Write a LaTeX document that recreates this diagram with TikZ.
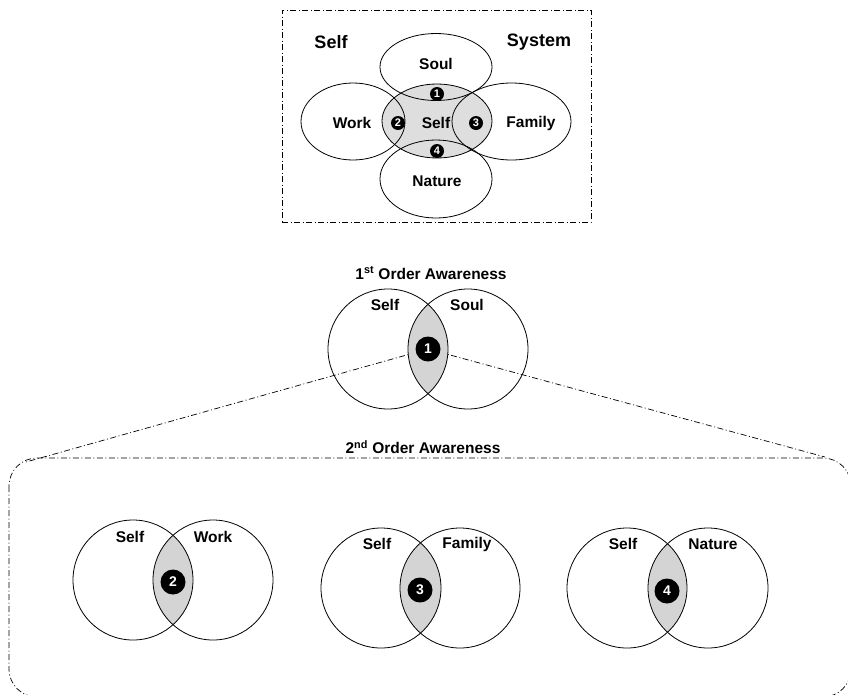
\documentclass[tikz,border=0pt]{standalone}
\usepackage{fontspec}
\setmainfont{Liberation Sans}
\usetikzlibrary{shapes.geometric}
\definecolor{lensgray}{RGB}{212,212,212}
\definecolor{selfgray}{RGB}{222,222,222}
\begin{document}
\begin{tikzpicture}[x=1pt,y=-1pt,
  line width=0.8pt,
  dd/.style={line width=0.7pt, dash pattern=on 6pt off 2.5pt on 1pt off 2.5pt},
  lbl/.style={font=\fontsize{15.5}{18}\selectfont\bfseries, inner sep=0pt},
  biglbl/.style={font=\fontsize{18}{21}\selectfont\bfseries, inner sep=0pt},
  bad/.style={circle, fill=black, text=white, inner sep=0pt, minimum size=25pt, font=\fontsize{14}{16}\selectfont\bfseries},
  sbad/.style={circle, fill=black, text=white, inner sep=0pt, minimum size=14pt, font=\fontsize{11}{12}\selectfont\bfseries},
  vc/.style={circle, draw, inner sep=0pt, minimum size=120pt},
  el/.style={ellipse, draw, inner sep=0pt},
]
\useasboundingbox (0,0) rectangle (848,694);
\fill[white] (0,0) rectangle (848,694);

% ---------- top box ----------
\node[draw, dd, rectangle, minimum width=309pt, minimum height=212pt, inner sep=0pt] (box) at (436.5,116) {};
\node[el, fill=selfgray, minimum width=110pt, minimum height=74pt] (eself) at (437,121) {};
\node[el, minimum width=112pt, minimum height=67pt] (esoul) at (436,67) {};
\node[el, minimum width=104pt, minimum height=77pt] (ework) at (353,121.5) {};
\node[el, minimum width=119pt, minimum height=77pt] (efam) at (511.5,121.5) {};
\node[el, minimum width=112pt, minimum height=78pt] (enat) at (436,179) {};
\node[biglbl] (tself) at (331,42) {Self};
\node[biglbl] (tsys) at (539,42) {System};
\node[lbl] (lsoul) at (436,64) {Soul};
\node[lbl] (lwork) at (352,123) {Work};
\node[lbl] (lself) at (436,123) {Self};
\node[lbl] (lfam) at (531,123) {Family};
\node[lbl] (lnat) at (437,181) {Nature};
\node[sbad] (s1) at (437,94) {1};
\node[sbad] (s2) at (398,123) {2};
\node[sbad] (s3) at (476,123) {3};
\node[sbad] (s4) at (437,151) {4};

% ---------- 1st order ----------
\node[lbl] (t1) at (431,273) {1\textsuperscript{st} Order Awareness};
\coordinate (m1c) at (428,349);
\coordinate (lend) at (26,462);
\coordinate (rend) at (825,457);
\draw[dd] (m1c) -- (lend);
\draw[dd] (m1c) -- (rend);
\coordinate (msc) at (388,349);
\coordinate (moc) at (468,349);
\begin{scope}
  \clip (msc) circle (60pt);
  \fill[lensgray] (moc) circle (60pt);
\end{scope}
\node[vc] (ms) at (msc) {};
\node[vc] (mo) at (moc) {};
\node[lbl] (lms) at (385,305) {Self};
\node[lbl] (lmo) at (467,305) {Soul};
\node[bad] (m1) at (m1c) {1};

% ---------- 2nd order ----------
\begin{scope}
  \clip (0,0) rectangle (848,694);
  \draw[dd, rounded corners=28pt] (9,458) rectangle (851,697);
\end{scope}
\node[lbl] (t2) at (423,447) {2\textsuperscript{nd} Order Awareness};

% group 1
\coordinate (a1) at (133,580);
\coordinate (a2) at (213,580);
\begin{scope}
  \clip (a1) circle (60pt);
  \fill[lensgray] (a2) circle (60pt);
\end{scope}
\node[vc] (ga1) at (a1) {};
\node[vc] (ga2) at (a2) {};
\node[lbl] (la1) at (130,537) {Self};
\node[lbl] (la2) at (213,537) {Work};
\node[bad] (b2) at (173,582) {2};

% group 2
\coordinate (c1) at (381,588);
\coordinate (c2) at (460,588);
\begin{scope}
  \clip (c1) circle (60pt);
  \fill[lensgray] (c2) circle (60pt);
\end{scope}
\node[vc] (gc1) at (c1) {};
\node[vc] (gc2) at (c2) {};
\node[lbl] (lc1) at (377,544) {Self};
\node[lbl] (lc2) at (467,544) {Family};
\node[bad] (b3) at (420,590) {3};

% group 3
\coordinate (d1) at (627,588);
\coordinate (d2) at (708,588);
\begin{scope}
  \clip (d1) circle (60pt);
  \fill[lensgray] (d2) circle (60pt);
\end{scope}
\node[vc] (gd1) at (d1) {};
\node[vc] (gd2) at (d2) {};
\node[lbl] (ld1) at (623,544) {Self};
\node[lbl] (ld2) at (713,544) {Nature};
\node[bad] (b4) at (667,591) {4};
\end{tikzpicture}
\end{document}
